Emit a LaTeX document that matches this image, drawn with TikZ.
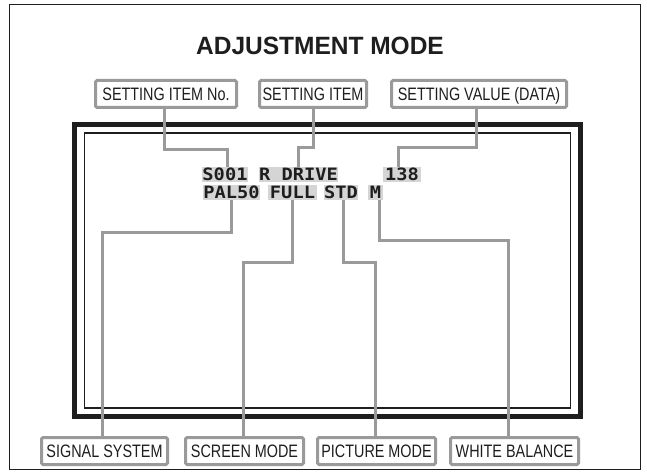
\documentclass[tikz,border=0pt]{standalone}
\usepackage{fontspec}
\usetikzlibrary{calc}
\setmainfont{Liberation Sans}
\newfontfamily\labfont[FakeStretch=0.8]{Liberation Sans}
\newfontfamily\ttlfont[FakeStretch=0.98]{Liberation Sans}
\newfontfamily\osdfont[FakeStretch=1.1]{DejaVu Sans Mono}
\definecolor{linegray}{HTML}{9A9A9A}
\definecolor{hlgray}{HTML}{D5D5D5}
\definecolor{ink}{HTML}{1E1E1E}
\begin{document}
\begin{tikzpicture}[x=1pt,y=-1pt,
  lbl/.style={draw=linegray, line width=3pt, fill=white, rounded corners=1.5pt,
    font=\labfont\fontsize{18}{18}\selectfont, text=ink,
    text height=12.9pt, text depth=0pt, inner sep=0pt, minimum height=27pt},
  osd/.style={fill=hlgray, font=\osdfont\bfseries\fontsize{17}{17}\selectfont, text=ink,
    text height=12.4pt, text depth=0pt, inner sep=0pt, minimum height=15pt},
  conn/.style={draw=linegray, line width=3pt, line join=miter}]
\useasboundingbox (0,0) rectangle (647,473);
\fill[white] (0,0) rectangle (647,473);
% outer frame
\draw[line width=1.6pt, ink] (9.5,4.5) rectangle (640.5,469.5);
% title
\node[font=\ttlfont\bfseries\fontsize{25}{25}\selectfont, text=ink, inner sep=0pt,
  text height=18pt, text depth=0pt] (title) at (320,46) {ADJUSTMENT MODE};
% screen
\draw[line width=4.5pt, ink] (74.7,124.5) rectangle (580.5,416.5);
\draw[line width=1.3pt, ink] (84.5,133) rectangle (570.5,408);
% label boxes
\node[lbl, minimum width=141pt] (itemno) at (166,94) {SETTING ITEM No.};
\node[lbl, minimum width=107pt] (item) at (313,94) {SETTING ITEM};
\node[lbl, minimum width=175pt] (value) at (479,94) {SETTING VALUE (DATA)};
\node[lbl, minimum width=126pt] (sig) at (104.5,451) {SIGNAL SYSTEM};
\node[lbl, minimum width=118pt] (scr) at (244.5,451) {SCREEN MODE};
\node[lbl, minimum width=118pt] (pic) at (376.5,451) {PICTURE MODE};
\node[lbl, minimum width=128pt] (wb) at (514.5,451) {WHITE BALANCE};
% OSD text
\node[osd, minimum width=44pt] (s001) at (225,174.5) {S001};
\node[osd, minimum width=79pt] (rdrive) at (298.5,174.5) {R DRIVE};
\node[osd, minimum width=38pt] (v138) at (402,174.5) {138};
\node[osd, minimum width=57pt] (pal) at (231.5,192) {PAL50};
\node[osd, minimum width=49pt] (full) at (292.5,192) {FULL};
\node[osd, minimum width=32pt] (std) at (341,192) {STD};
\node[osd, minimum width=15pt] (m) at (375.5,192) {M};
% bend levels
\coordinate (yA) at (0,150);
\coordinate (yB) at (0,148);
\coordinate (yC) at (0,232);
\coordinate (yD) at (0,262);
\coordinate (yE) at (0,240);
% connector end points
\coordinate (a1) at ($(itemno.south)+(-1.5,0)$);
\coordinate (a2) at ($(s001.north)+(2,0)$);
\coordinate (c1) at ($(value.south)+(-3,0)$);
\coordinate (c2) at ($(v138.north)+(-4,0)$);
\coordinate (d2) at ($(sig.north)+(-2.5,0)$);
\coordinate (e2) at ($(scr.north)+(-1.5,0)$);
\coordinate (f1) at ($(std.south)+(2,0)$);
\coordinate (f2) at ($(pic.north)+(-1.5,0)$);
\coordinate (g1) at ($(m.south)+(3.5,0)$);
\coordinate (g2) at ($(wb.north)+(-6.5,0)$);
% connectors
\draw[conn] (a1) -- (a1 |- yA) -| (a2);
\draw[conn] (item.south) -- (item.south |- yB) -| (rdrive.north);
\draw[conn] (c1) -- (c1 |- yB) -| (c2);
\draw[conn] (pal.south) -- (pal.south |- yC) -| (d2);
\draw[conn] (full.south) -- (full.south |- yD) -| (e2);
\draw[conn] (f1) -- (f1 |- yD) -| (f2);
\draw[conn] (g1) -- (g1 |- yE) -| (g2);
\end{tikzpicture}
\end{document}
